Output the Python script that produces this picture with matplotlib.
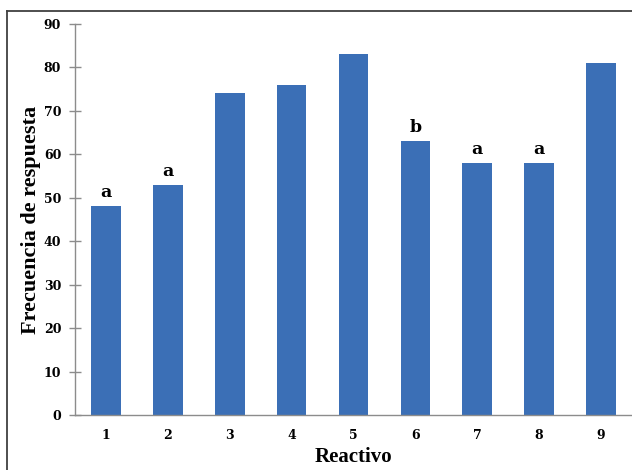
import numpy as np
import matplotlib.pyplot as plt
from matplotlib.lines import Line2D

# data
reactivos = ["1", "2", "3", "4", "5", "6", "7", "8", "9"]
frecuencia = [48, 53, 74, 76, 83, 63, 58, 58, 81]
letras = ["a", "a", "", "", "", "b", "a", "a", ""]
y_ticks = [0, 10, 20, 30, 40, 50, 60, 70, 80, 90]

plt.rcParams["font.family"] = ["DejaVu Serif"]
plt.rcParams["font.weight"] = "bold"

fig = plt.figure(figsize=(6.32, 4.70), dpi=100)
ax = fig.add_axes([0.1187, 0.117, 0.8813, 0.832])

x = np.arange(len(reactivos))
ax.bar(x, frecuencia, width=0.48, color="#3B6FB6", zorder=2)

for xi, val, lab in zip(x, frecuencia, letras):
    if lab:
        ax.text(xi, val + 1.2, lab, ha="center", va="bottom",
                fontsize=12.5, fontweight="bold", color="black")

ax.set_xlim(-0.5, len(reactivos) - 0.5)
ax.set_ylim(0, 90)
ax.set_xticks(x)
ax.set_xticklabels(reactivos)
ax.set_yticks(y_ticks)

for side in ["top", "right"]:
    ax.spines[side].set_visible(False)
for side in ["left", "bottom"]:
    ax.spines[side].set_color("#8c8c8c")
    ax.spines[side].set_linewidth(1.0)

ax.tick_params(axis="y", direction="inout", length=8, width=1.0,
               color="#8c8c8c", labelsize=9, pad=6)
ax.tick_params(axis="x", length=0, labelsize=9, pad=10)
for lbl in ax.get_xticklabels() + ax.get_yticklabels():
    lbl.set_fontweight("bold")

ax.set_xlabel("Reactivo", fontsize=15, fontweight="bold", labelpad=4,
              family="Liberation Serif")
ax.set_ylabel("Frecuencia de respuesta", fontsize=16, fontweight="bold",
              labelpad=2, family="Liberation Serif")

# chart-area border (top and left edges visible)
fig.add_artist(Line2D([7 / 632, 7 / 632], [0, 1 - 11 / 470],
                      transform=fig.transFigure, color="#404040", lw=1.3))
fig.add_artist(Line2D([7 / 632, 1], [1 - 11 / 470, 1 - 11 / 470],
                      transform=fig.transFigure, color="#404040", lw=1.3))

fig.savefig("out.png", dpi=100)
